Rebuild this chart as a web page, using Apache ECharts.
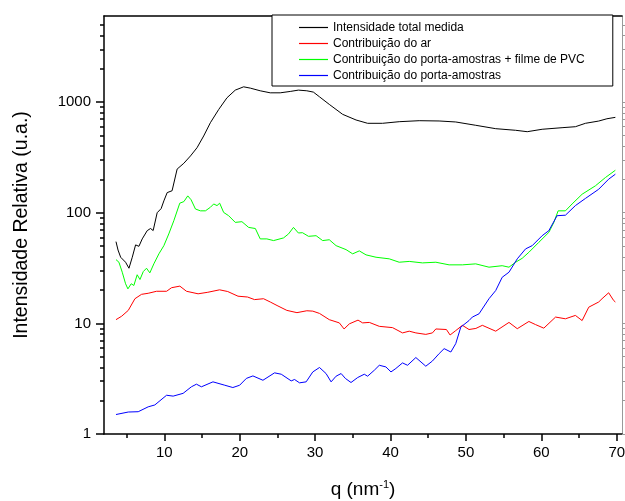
<!DOCTYPE html>
<html><head><meta charset="utf-8">
<script src="https://cdn.jsdelivr.net/npm/echarts@6/dist/echarts.min.js"></script>
<style>html,body{margin:0;padding:0;background:#fff}#c{width:625px;height:501px}</style>
</head><body><div id="c"></div>
<script>
const seriesNames = ['Intensidade total medida','Contribuição do ar','Contribuição do porta-amostras + filme de PVC','Contribuição do porta-amostras'];
const seriesColors = ['#000000','#ff0000','#00ff00','#0000ff'];

const qTotal = [3.59,3.86,4.21,4.44,4.86,5.31,5.75,6.19,6.63,7.07,7.73,8.17,8.52,9.05,9.58,9.94,10.38,11.03,11.70,12.59,13.47,14.34,15.22,16.11,17.22,18.31,19.41,20.52,21.41,22.72,24.05,25.37,26.70,27.78,28.90,29.77,30.58,31.88,33.65,35.43,36.96,38.94,41.15,43.80,46.44,48.65,51.30,53.95,56.59,58.13,60.11,62.75,64.52,65.85,67.61,68.70,69.82];
const total = [54.8,46,39.6,40,35.7,31.5,39.6,51.2,49.7,58,68.9,72,69,100,109,128,152,158,248,280,326,387,494,651,859,1094,1283,1374,1337,1265,1213,1213,1248,1283,1265,1231,1116,953,775,689,643,643,665,679,675,661,617,575,556,540,568,587,599,643,674,707,728];

const qAr = [3.59,4.34,5.22,6.10,6.98,7.86,8.97,10.30,10.96,12.06,12.94,14.48,15.77,17.33,18.41,19.77,21.04,21.97,23.16,24.05,24.95,26.25,27.59,28.90,29.69,30.58,31.88,33.21,33.84,34.54,35.69,36.30,37.19,38.51,40.27,41.59,42.48,43.36,44.68,45.56,46.01,47.41,47.90,48.65,49.53,50.41,51.32,52.18,53.95,55.71,56.81,58.35,59.23,60.33,61.89,63.20,64.52,65.41,66.29,67.61,68.05,68.93,69.59,69.82];
const ar = [10.8,11.6,13.1,16.7,18.3,18.7,19.5,19.5,21,21.7,19.5,18.5,19.1,20.1,19.4,17.6,17.3,16.4,16.7,15.6,14.5,13.1,12.5,13.0,12.9,12.3,10.8,10.1,8.9,9.9,10.7,10.1,10.2,9.4,9.15,8.2,8.5,8.2,7.95,8.2,8.9,8.8,7.85,8.6,9.6,8.8,9.0,9.6,8.5,10.2,8.95,10.4,9.75,9.05,11.4,11.0,11.8,10.6,14.0,15.6,16.7,18.9,16.1,15.6];

const qPvc = [3.59,3.98,4.42,4.86,5.17,5.61,5.96,6.40,6.77,7.21,7.64,8.08,8.61,9.28,9.94,10.59,11.26,12.05,12.59,13.11,13.55,14.13,14.79,15.45,16.11,16.55,16.99,17.34,17.87,18.53,19.41,20.29,21.18,22.07,22.72,23.60,24.49,25.81,26.47,27.13,27.78,28.32,29.12,30.13,31.00,31.88,32.78,34.10,34.98,35.86,36.75,38.08,39.83,41.15,42.48,44.24,46.01,47.77,49.53,51.30,53.06,54.81,55.71,56.59,57.46,58.35,59.67,61.00,61.66,62.23,63.20,64.08,65.41,67.17,68.50,69.82];
const pvc = [37.7,35.7,29,22.8,20.5,22.8,22,27.5,24.9,29.4,31.5,28.6,34.5,42.5,50.4,64.3,84.7,122,126,142,131,108,104,104,112,120,116,122,100.6,94,81.8,83,73.7,72,58,58,56,59.2,64.3,73.7,65.6,66,61.2,62,56,57,50.4,46.4,42.5,45.2,41.6,39.6,38.3,35.7,36.3,35.2,35.7,33.8,33.8,34.5,32.2,33.2,32.2,35.7,38.7,43.9,54,66.5,81.8,104,104,120,147,175,208,242];

const qPorta = [3.59,5.22,6.54,7.86,8.74,10.30,11.17,12.49,13.59,14.26,14.92,16.45,18.02,19.09,19.99,20.88,21.75,23.08,24.62,25.51,26.83,27.27,27.93,28.81,29.69,30.58,31.45,32.12,32.78,33.45,34.01,34.76,35.65,36.52,36.96,37.85,38.51,39.39,40.06,40.71,41.59,42.26,43.36,44.68,45.56,46.45,47.11,48.00,48.65,49.32,50.41,50.85,51.74,53.06,53.95,54.81,55.71,56.81,57.91,58.79,60.11,61.00,62.09,63.20,64.52,65.85,67.61,68.93,69.82];
const porta = [1.5,1.58,1.59,1.76,1.83,2.24,2.2,2.33,2.67,2.82,2.67,2.96,2.76,2.63,2.76,3.18,3.35,3.06,3.57,3.47,3.02,3.11,2.9,2.96,3.64,3.99,3.52,2.96,3.33,3.52,3.18,2.92,3.24,3.47,3.33,3.77,4.18,4.04,3.64,3.91,4.39,4.18,4.91,4.1,4.57,5.33,5.91,5.51,6.56,9.25,10.6,11.4,12.2,16.7,19.8,26.1,29,38.3,47.1,50.4,62,68.9,94,95,116,134.6,163,201,223];

const xTickLabels = [10,20,30,40,50,60,70];
const xMinorTicks = [5,15,25,35,45,55,65];
const yTickLabels = [1,10,100,1000];
const yMinorTicks = [2,3,4,5,6,7,8,9,20,30,40,50,60,70,80,90,200,300,400,500,600,700,800,900,2000,3000,4000,5000];

const FONT = '"Liberation Sans", Arial, Helvetica, sans-serif';
const xRange = {min: 2, max: 70.7};
const yRange = {min: 1, max: 6000};

function pairs(xs, ys){ return xs.map((x,i)=>[x, ys[i]]); }

const chart = echarts.init(document.getElementById('c'), null, {renderer:'canvas'});
chart.setOption({
  animation: false,
  backgroundColor: '#fff',
  textStyle: {fontFamily: FONT},
  grid: {left: 104, top: 16, right: 3, bottom: 67, outerBoundsMode: 'none', containLabel: false},
  legend: {
    data: seriesNames.map(n => ({name: n, icon: 'rect'})),
    orient: 'vertical',
    left: 272, top: 15,
    padding: [5, 28, 3, 27],
    itemWidth: 29, itemHeight: 1.2, itemGap: 1,
    backgroundColor: '#fff',
    borderColor: '#000', borderWidth: 1, borderRadius: 0,
    textStyle: {fontSize: 12, lineHeight: 15, color: '#000', fontFamily: FONT},
    z: 10
  },
  xAxis: [
    {type: 'value', position: 'bottom', min: xRange.min, max: xRange.max,
     axisLine: {show: true, onZero: false, lineStyle: {color: '#000', width: 1.5}},
     axisTick: {show: true, customValues: xTickLabels, length: 7, lineStyle: {color: '#000', width: 1.5}},
     axisLabel: {customValues: xTickLabels, fontSize: 15, color: '#000', margin: 11, fontFamily: FONT},
     splitLine: {show: false},
     name: 'q (nm{sup|-1})', nameLocation: 'middle', nameGap: 45,
     nameTextStyle: {fontSize: 19, color: '#000', fontFamily: FONT, lineHeight: 22,
       rich: {sup: {fontSize: 11, color: '#000', fontFamily: FONT, verticalAlign: 'top', lineHeight: 12}}}},
    {type: 'value', position: 'bottom', min: xRange.min, max: xRange.max,
     axisLine: {show: false, onZero: false},
     axisTick: {show: true, customValues: xMinorTicks, length: 4, lineStyle: {color: '#000', width: 1.5}},
     axisLabel: {show: false}, splitLine: {show: false}},
    {type: 'value', position: 'top', min: xRange.min, max: xRange.max,
     axisLine: {show: true, onZero: false, lineStyle: {color: '#000', width: 1.5}},
     axisTick: {show: false}, axisLabel: {show: false}, splitLine: {show: false}}
  ],
  yAxis: [
    {type: 'log', logBase: 10, position: 'left', min: yRange.min, max: yRange.max,
     axisLine: {show: true, onZero: false, lineStyle: {color: '#000', width: 1.5}},
     axisTick: {show: true, customValues: yTickLabels, length: 8, lineStyle: {color: '#000', width: 1.5}},
     axisLabel: {customValues: yTickLabels, fontSize: 15, color: '#000', margin: 13, fontFamily: FONT,
       formatter: v => String(Math.round(v))},
     splitLine: {show: false}, minorTick: {show: false},
     name: 'Intensidade Relativa (u.a.)', nameLocation: 'middle', nameGap: 72,
     nameTextStyle: {fontSize: 19.5, color: '#000', fontFamily: FONT}},
    {type: 'log', logBase: 10, position: 'left', min: yRange.min, max: yRange.max,
     axisLine: {show: false, onZero: false},
     axisTick: {show: true, customValues: yMinorTicks, length: 4, lineStyle: {color: '#000', width: 1.5}},
     axisLabel: {show: false}, splitLine: {show: false}},
    {type: 'log', logBase: 10, position: 'right', min: yRange.min, max: yRange.max,
     axisLine: {show: true, onZero: false, lineStyle: {color: '#999', width: 1}},
     axisTick: {show: true, customValues: yMinorTicks.concat(yTickLabels), length: 3, lineStyle: {color: '#999', width: 1}},
     axisLabel: {show: false}, splitLine: {show: false}}
  ],
  series: [
    {name: seriesNames[0], type: 'line', data: pairs(qTotal, total), symbol: 'none', lineStyle: {color: seriesColors[0], width: 1}, itemStyle: {color: seriesColors[0]}, xAxisIndex: 0, yAxisIndex: 0},
    {name: seriesNames[1], type: 'line', data: pairs(qAr, ar), symbol: 'none', lineStyle: {color: seriesColors[1], width: 1}, itemStyle: {color: seriesColors[1]}, xAxisIndex: 0, yAxisIndex: 0},
    {name: seriesNames[2], type: 'line', data: pairs(qPvc, pvc), symbol: 'none', lineStyle: {color: seriesColors[2], width: 1}, itemStyle: {color: seriesColors[2]}, xAxisIndex: 0, yAxisIndex: 0},
    {name: seriesNames[3], type: 'line', data: pairs(qPorta, porta), symbol: 'none', lineStyle: {color: seriesColors[3], width: 1}, itemStyle: {color: seriesColors[3]}, xAxisIndex: 0, yAxisIndex: 0}
  ]
});
</script>
</body></html>
